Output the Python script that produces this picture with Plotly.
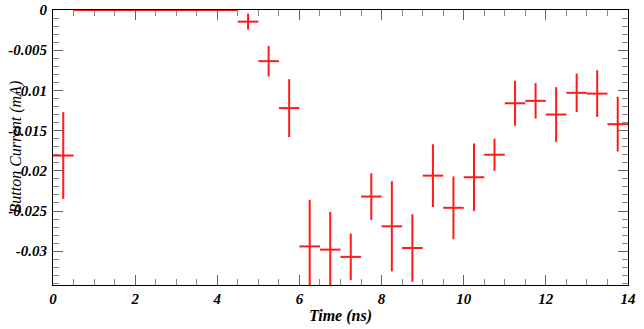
import plotly.graph_objects as go

# bin centres (ns), values (mA) and errors
time_ns = [0.25, 0.75, 1.25, 1.75, 2.25, 2.75, 3.25, 3.75, 4.25, 4.75, 5.25, 5.75,
           6.25, 6.75, 7.25, 7.75, 8.25, 8.75, 9.25, 9.75, 10.25, 10.75, 11.25,
           11.75, 12.25, 12.75, 13.25, 13.75]
current_mA = [-0.0181, 0, 0, 0, 0, 0, 0, 0, 0, -0.00145, -0.00636, -0.0122,
              -0.0294, -0.0298, -0.0307, -0.0232, -0.0269, -0.0296, -0.0206, -0.0246,
              -0.0208, -0.0180, -0.0116, -0.0113, -0.0130, -0.0103, -0.0104, -0.0142]
current_err = [0.0054, 0, 0, 0, 0, 0, 0, 0, 0, 0.0010, 0.0019, 0.0036,
               0.0058, 0.0047, 0.0029, 0.0029, 0.0056, 0.0042, 0.0039, 0.0039,
               0.0042, 0.0020, 0.0028, 0.0022, 0.0034, 0.0024, 0.0029, 0.0034]
bin_halfwidth = [0.25] * len(time_ns)

x_tickvals = [0, 2, 4, 6, 8, 10, 12, 14]
x_ticktext = ["0", "2", "4", "6", "8", "10", "12", "14"]
y_tickvals = [0, -0.005, -0.01, -0.015, -0.02, -0.025, -0.03]
y_ticktext = ["0", "-0.005", "-0.01", "-0.015", "-0.02", "-0.025", "-0.03"]

RED = "#ff1a1a"
SERIF = "Liberation Serif"
tickfont = dict(family=SERIF, size=15, color="black", weight="bold", style="italic")

fig = go.Figure()
zero_idx = [i for i, v in enumerate(current_mA) if v == 0]
nz_idx = [i for i, v in enumerate(current_mA) if v != 0]
for idx, clip in ((nz_idx, True), (zero_idx, False)):
    fig.add_trace(go.Scatter(
        x=[time_ns[i] for i in idx], y=[current_mA[i] for i in idx], mode="markers",
        marker=dict(size=0.1, color=RED), cliponaxis=clip,
        error_x=dict(type="data", array=[bin_halfwidth[i] for i in idx], width=0, thickness=2, color=RED),
        error_y=dict(type="data", array=[current_err[i] for i in idx], width=0, thickness=2, color=RED),
        showlegend=False,
    ))

axis_common = dict(
    showgrid=False, zeroline=False, showline=True, linecolor="black", linewidth=1,
    mirror="allticks", ticks="inside", tickcolor="#666", tickwidth=1,
    tickfont=tickfont, automargin=False, layer="below traces",
)

fig.update_xaxes(
    range=[0, 14], tickvals=x_tickvals, ticktext=x_ticktext, ticklen=10,
    minor=dict(dtick=0.5, ticks="inside", ticklen=6, tickcolor="#888", showgrid=False),
    title=dict(text="Time (ns)", font=dict(family=SERIF, size=16, color="black",
                                           weight="bold", style="italic"), standoff=3),
    **axis_common,
)
fig.update_yaxes(
    range=[-0.0342, 0], tickvals=y_tickvals, ticktext=y_ticktext, ticklen=10,
    minor=dict(dtick=0.001, tick0=0, ticks="inside", ticklen=6, tickcolor="#888", showgrid=False),
    ticklabelstandoff=2,
    **axis_common,
)

fig.add_annotation(
    text="Button Current (mA)", xref="paper", yref="paper",
    x=-(53 - 15) / 575, y=0.5, xanchor="center", yanchor="middle", textangle=-90,
    showarrow=False, font=dict(family=SERIF, size=16, color="black", style="italic"),
)

fig.update_layout(
    width=644, height=329,
    margin=dict(l=53, r=16, t=9.5, b=43.5),
    paper_bgcolor="white", plot_bgcolor="white",
)
fig.write_html("out.html")
